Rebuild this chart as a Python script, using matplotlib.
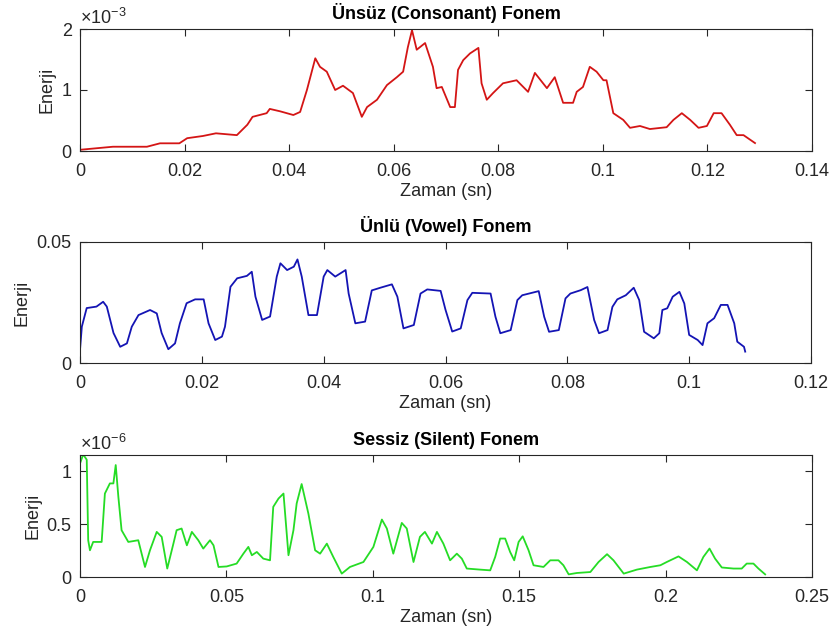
import matplotlib
matplotlib.use("Agg")
import matplotlib.pyplot as plt
from matplotlib.ticker import FuncFormatter

plt.rcParams['font.family'] = ['Liberation Sans', 'DejaVu Sans']
plt.rcParams['mathtext.fontset'] = 'custom'
plt.rcParams['mathtext.rm'] = 'Liberation Sans'

# ---- data ----
cons_t = [0, 0.0063, 0.0128, 0.0153, 0.019, 0.0205, 0.0235, 0.026, 0.030, 0.032, 0.033, 0.0357,
          0.0363, 0.0383, 0.0408, 0.0421, 0.0434, 0.045, 0.0459, 0.0472, 0.0488, 0.0503, 0.0522,
          0.0539, 0.0549, 0.0568, 0.0587, 0.0606, 0.0618, 0.0627, 0.0635, 0.0644, 0.066, 0.0675,
          0.0682, 0.0692, 0.0708, 0.0717, 0.0723, 0.0733, 0.0746, 0.0762, 0.0768, 0.0778, 0.079,
          0.0809, 0.0835, 0.0857, 0.087, 0.0893, 0.0908, 0.0924, 0.0943, 0.095, 0.0962, 0.0975,
          0.0988, 0.1001, 0.1007, 0.102, 0.1039, 0.1052, 0.1071, 0.109, 0.1122, 0.1135, 0.1151,
          0.1167, 0.1183, 0.1199, 0.1212, 0.1227, 0.1243, 0.1256, 0.1269, 0.1291]
cons_e = [0.02, 0.07, 0.07, 0.126, 0.126, 0.21, 0.246, 0.29, 0.26, 0.43, 0.56, 0.62, 0.69, 0.65,
          0.59, 0.64, 1.0, 1.52, 1.38, 1.3, 1.0, 1.07, 0.95, 0.56, 0.72, 0.84, 1.08, 1.21, 1.3,
          1.7, 1.98, 1.66, 1.77, 1.38, 1.03, 1.05, 0.72, 0.72, 1.33, 1.49, 1.6, 1.69, 1.11, 0.84,
          0.95, 1.11, 1.16, 0.97, 1.28, 1.03, 1.21, 0.79, 0.79, 0.97, 1.05, 1.38, 1.3, 1.16, 1.16,
          0.62, 0.51, 0.38, 0.41, 0.36, 0.39, 0.51, 0.62, 0.51, 0.38, 0.41, 0.62, 0.62, 0.43,
          0.26, 0.26, 0.13]  # x1e-3

vow_t = [0, 0.0003, 0.0011, 0.0027, 0.0038, 0.0044, 0.0055, 0.0066, 0.0077, 0.0085, 0.0096,
         0.0115, 0.0126, 0.0134, 0.0145, 0.0156, 0.0164, 0.0175, 0.0189, 0.0203, 0.0211, 0.0222,
         0.0233, 0.0238, 0.0247, 0.0258, 0.0274, 0.0282, 0.0288, 0.0299, 0.0312, 0.0323, 0.0329,
         0.034, 0.0351, 0.0357, 0.0364, 0.0375, 0.0389, 0.04, 0.0406, 0.0419, 0.0436, 0.0441,
         0.0452, 0.0468, 0.0479, 0.0493, 0.0512, 0.0521, 0.0531, 0.0548, 0.0559, 0.057, 0.0592,
         0.06, 0.0611, 0.0625, 0.0636, 0.0644, 0.0674, 0.0682, 0.069, 0.0707, 0.0718, 0.0726,
         0.0753, 0.0762, 0.077, 0.0786, 0.0797, 0.0805, 0.0822, 0.0833, 0.0844, 0.0852, 0.0866,
         0.0874, 0.0882, 0.0896, 0.0909, 0.0918, 0.0926, 0.0942, 0.0951, 0.0956, 0.0964, 0.0973,
         0.0984, 0.0992, 0.1, 0.1014, 0.1022, 0.103, 0.1041, 0.1052, 0.1063, 0.1074, 0.1079,
         0.109, 0.1092]
vow_e = [0.0054, 0.015, 0.0227, 0.0233, 0.0253, 0.0233, 0.0124, 0.0067, 0.0081, 0.015, 0.0198,
         0.0219, 0.0205, 0.0124, 0.0057, 0.0081, 0.0164, 0.0247, 0.0263, 0.0263, 0.0164, 0.0095,
         0.0109, 0.015, 0.0315, 0.035, 0.036, 0.0377, 0.0274, 0.0178, 0.0192, 0.0357, 0.0412,
         0.0384, 0.0398, 0.0428, 0.0357, 0.0198, 0.0198, 0.0357, 0.0384, 0.0357, 0.0384, 0.0287,
         0.0164, 0.0171, 0.030, 0.0311, 0.0325, 0.0274, 0.0143, 0.0157, 0.0287, 0.0304, 0.0298,
         0.022, 0.013, 0.0143, 0.026, 0.029, 0.0287, 0.0191, 0.0123, 0.0136, 0.026, 0.028,
         0.0297, 0.0191, 0.0129, 0.0136, 0.0267, 0.0287, 0.0301, 0.0314, 0.0178, 0.0123, 0.0136,
         0.0232, 0.0263, 0.028, 0.0311, 0.026, 0.0129, 0.0102, 0.0123, 0.0219, 0.0226, 0.0274,
         0.0294, 0.0246, 0.0116, 0.0095, 0.0074, 0.0164, 0.0185, 0.024, 0.024, 0.0164, 0.0088,
         0.0067, 0.0047]

sil_t = [0, 0.0011, 0.0023, 0.0028, 0.0034, 0.0045, 0.0074, 0.0085, 0.0102, 0.0114, 0.0122,
         0.0131, 0.0142, 0.0165, 0.0199, 0.0222, 0.0239, 0.0262, 0.0279, 0.0298, 0.0319, 0.033,
         0.0347, 0.0365, 0.0382, 0.0404, 0.0421, 0.0444, 0.0456, 0.0473, 0.0501, 0.0535, 0.0558,
         0.0575, 0.0587, 0.0604, 0.0626, 0.0649, 0.066, 0.0678, 0.0695, 0.0712, 0.0729, 0.074,
         0.0757, 0.078, 0.0803, 0.082, 0.0843, 0.0865, 0.0894, 0.0922, 0.0968, 0.1002, 0.1031,
         0.1048, 0.107, 0.1099, 0.1116, 0.1139, 0.1161, 0.1178, 0.1202, 0.1219, 0.1241, 0.1264,
         0.1287, 0.1304, 0.1321, 0.1366, 0.1401, 0.1418, 0.1435, 0.1452, 0.1469, 0.1483, 0.1498,
         0.1512, 0.1532, 0.1549, 0.1583, 0.1606, 0.1634, 0.1651, 0.1669, 0.1697, 0.1743, 0.1771,
         0.18, 0.1822, 0.1857, 0.1902, 0.1948, 0.1982, 0.2004, 0.2044, 0.2073, 0.2107, 0.2129,
         0.215, 0.2169, 0.2192, 0.2232, 0.226, 0.2277, 0.23, 0.2317, 0.234]
sil_e = [1.076, 1.16, 1.11, 0.348, 0.253, 0.332, 0.332, 0.79, 0.886, 0.886, 1.06, 0.759, 0.443,
         0.332, 0.348, 0.095, 0.253, 0.427, 0.38, 0.08, 0.316, 0.443, 0.459, 0.3, 0.427, 0.348,
         0.269, 0.348, 0.3, 0.095, 0.1, 0.127, 0.221, 0.285, 0.206, 0.237, 0.174, 0.158, 0.664,
         0.743, 0.79, 0.206, 0.443, 0.696, 0.88, 0.6, 0.253, 0.221, 0.316, 0.19, 0.032, 0.095,
         0.142, 0.285, 0.544, 0.459, 0.221, 0.512, 0.459, 0.142, 0.38, 0.427, 0.316, 0.427, 0.316,
         0.158, 0.221, 0.174, 0.08, 0.07, 0.063, 0.19, 0.364, 0.364, 0.237, 0.158, 0.332, 0.385,
         0.253, 0.111, 0.095, 0.158, 0.158, 0.111, 0.025, 0.038, 0.047, 0.142, 0.216, 0.158,
         0.032, 0.07, 0.095, 0.111, 0.142, 0.195, 0.142, 0.063, 0.19, 0.269, 0.174, 0.09, 0.08,
         0.08, 0.127, 0.127, 0.08, 0.025]  # x1e-6

titles = ["Ünsüz (Consonant) Fonem", "Ünlü (Vowel) Fonem", "Sessiz (Silent) Fonem"]
xlabel = "Zaman (sn)"
ylabel = "Enerji"

fig = plt.figure(figsize=(8.34, 6.41), dpi=100)
TXT = '#262626'
FS = 13

W = 834.0
H = 641.0
def add_ax(left, top, right, bottom):
    return fig.add_axes([left / W, 1 - bottom / H, (right - left) / W, (bottom - top) / H])

ax1 = add_ax(80, 29, 812, 151)
ax2 = add_ax(80, 242, 811, 363)
ax3 = add_ax(80, 455, 812, 577)

ax1.plot(cons_t, [v * 1e-3 for v in cons_e], color='#d41515', lw=1.3)
ax2.plot(vow_t, vow_e, color='#1414b4', lw=1.3)
ax3.plot(sil_t, [v * 1e-6 for v in sil_e], color='#25dc25', lw=1.3)

def fmt(v, p):
    return '%g' % round(v, 6)

ax1.set_xlim(0, 0.14); ax1.set_ylim(0, 2e-3)
ax1.set_xticks([0, 0.02, 0.04, 0.06, 0.08, 0.1, 0.12, 0.14])
ax1.set_yticks([0, 1e-3, 2e-3])
ax1.yaxis.set_major_formatter(FuncFormatter(lambda v, p: '%g' % round(v * 1e3, 6)))

ax2.set_xlim(0, 0.12); ax2.set_ylim(0, 0.05)
ax2.set_xticks([0, 0.02, 0.04, 0.06, 0.08, 0.1, 0.12])
ax2.set_yticks([0, 0.05])
ax2.yaxis.set_major_formatter(FuncFormatter(fmt))

ax3.set_xlim(0, 0.25); ax3.set_ylim(0, 1.155e-6)
ax3.set_xticks([0, 0.05, 0.1, 0.15, 0.2, 0.25])
ax3.set_yticks([0, 0.5e-6, 1e-6])
ax3.yaxis.set_major_formatter(FuncFormatter(lambda v, p: '%g' % round(v * 1e6, 6)))

for ax, t in zip([ax1, ax2, ax3], titles):
    ax.xaxis.set_major_formatter(FuncFormatter(fmt))
    ax.tick_params(direction='in', length=5, width=0.8, colors=TXT, labelsize=FS,
                   top=True, right=True)
    ax.tick_params(axis='x', pad=9)
    ax.tick_params(axis='y', pad=6)
    for s in ax.spines.values():
        s.set_color(TXT)
        s.set_linewidth(0.8)
    ax.set_title(t, fontsize=FS, fontweight='bold', color='black', pad=7)
    ax.set_xlabel(xlabel, fontsize=FS, color=TXT, labelpad=2)
    ax.set_ylabel(ylabel, fontsize=FS, color=TXT, labelpad=4)

ax1.text(0, 1.01, r'$\times\mathregular{10^{-3}}$', transform=ax1.transAxes, fontsize=FS,
         color=TXT, ha='left', va='bottom')
ax3.text(0, 1.01, r'$\times\mathregular{10^{-6}}$', transform=ax3.transAxes, fontsize=FS,
         color=TXT, ha='left', va='bottom')

fig.savefig('out.png', dpi=100)
